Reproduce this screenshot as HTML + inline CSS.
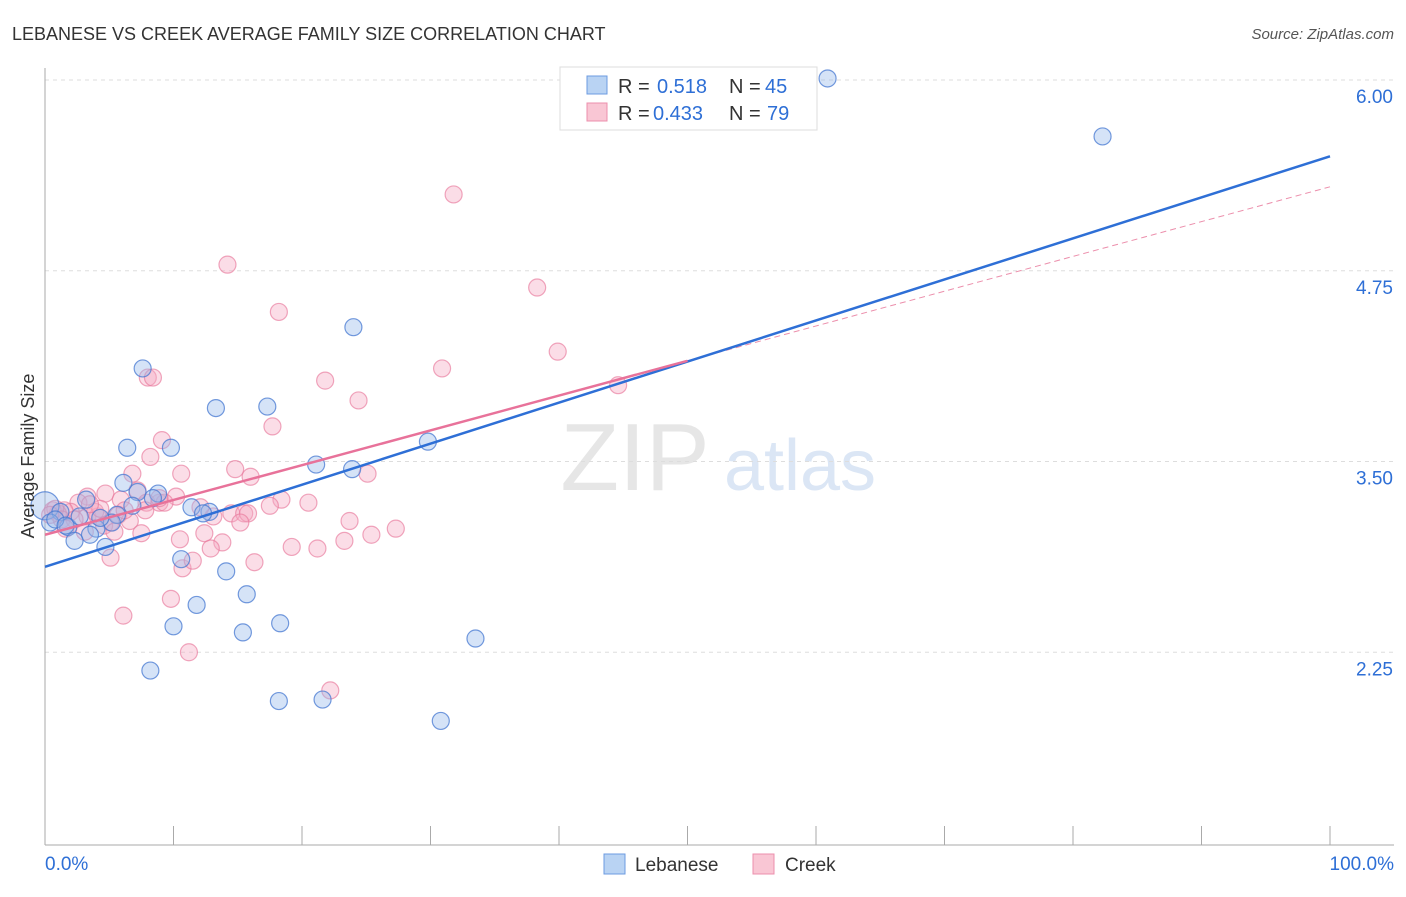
<!DOCTYPE html>
<html><head><meta charset="utf-8"><style>
body{margin:0;background:#fff;font-family:"Liberation Sans",sans-serif}
svg text{font-family:"Liberation Sans",sans-serif}
</style></head><body>
<svg id="chart" width="1406" height="892" xmlns="http://www.w3.org/2000/svg">
<text x="12" y="40" font-size="18" fill="#333">LEBANESE VS CREEK AVERAGE FAMILY SIZE CORRELATION CHART</text>
<text x="1394" y="39" font-size="15" fill="#555" text-anchor="end" font-style="italic">Source: ZipAtlas.com</text>
<g><text x="635" y="490" font-size="96" fill="#e6e6e6" font-family="Liberation Serif" text-anchor="middle">ZIP</text><text x="800" y="490" font-size="72" fill="#dbe6f5" text-anchor="middle">atlas</text></g>
<g id="grid"></g><g id="axes"></g><g id="points"></g><g id="lines"></g>
<text transform="translate(34,456) rotate(-90)" font-size="18" fill="#333" text-anchor="middle">Average Family Size</text>
<g>
<rect x="560" y="67" width="257" height="63" fill="#fff" stroke="#ddd"/>
<rect x="587" y="76" width="20" height="18" fill="#b9d3f3" stroke="#6c9be0"/>
<rect x="587" y="103" width="20" height="18" fill="#f9c6d4" stroke="#ec8fac"/>
<text x="618" y="93" font-size="20" fill="#333">R =</text><text x="657" y="93" font-size="20" fill="#2e6fd6">0.518</text>
<text x="729" y="93" font-size="20" fill="#333">N =</text><text x="765" y="93" font-size="20" fill="#2e6fd6">45</text>
<text x="618" y="120" font-size="20" fill="#333">R =</text><text x="653" y="120" font-size="20" fill="#2e6fd6">0.433</text>
<text x="729" y="120" font-size="20" fill="#333">N =</text><text x="767" y="120" font-size="20" fill="#2e6fd6">79</text>
</g>
<g>
<rect x="604" y="854" width="21" height="20" fill="#b9d3f3" stroke="#6c9be0"/><text x="635" y="871" font-size="19" fill="#333">Lebanese</text>
<rect x="753" y="854" width="21" height="20" fill="#f9c6d4" stroke="#ec8fac"/><text x="785" y="871" font-size="19" fill="#333">Creek</text>
</g>
</svg>
<script>
const yTicks=[6.00,4.75,3.50,2.25];
const xTickLabels=["0.0%","100.0%"];
const lebX=[0,60.9,82.3,24.0,7.6,13.3,17.3,29.8,6.4,9.8,21.1,23.9,6.1,7.2,8.8,8.4,11.4,12.8,12.3,6.8,5.6,5.2,3.2,1.2,1.8,4.0,3.5,2.3,4.7,10.6,14.1,15.7,11.8,10.0,15.4,18.3,33.5,8.2,18.2,21.6,30.8,0.4,0.8,1.6,4.3,2.7];
const lebY=[3.21,6.01,5.63,4.38,4.11,3.85,3.86,3.63,3.59,3.59,3.48,3.45,3.36,3.30,3.29,3.26,3.20,3.17,3.16,3.21,3.15,3.10,3.25,3.17,3.07,3.06,3.02,2.98,2.94,2.86,2.78,2.63,2.56,2.42,2.38,2.44,2.34,2.13,1.93,1.94,1.80,3.10,3.12,3.08,3.13,3.14];
const creekX=[31.8,14.2,38.3,18.2,39.9,30.9,8.0,8.4,21.8,44.6,24.4,17.7,9.1,8.2,14.8,10.6,16.0,6.8,25.1,7.2,4.7,3.3,10.2,20.5,18.4,7.9,8.9,9.3,5.9,2.6,2.0,1.5,1.0,0.6,3.3,4.1,5.7,13.1,14.5,15.5,15.8,6.6,5.1,4.6,23.7,12.4,27.3,25.4,23.3,10.5,13.8,19.2,21.2,12.9,16.3,5.1,10.7,11.5,9.8,6.1,11.2,22.2,0.8,1.3,2.3,3.9,5.4,7.5,3.1,1.6,0.4,4.3,6.2,8.9,17.5,15.2,12.1,7.8,3.5];
const creekY=[5.25,4.79,4.64,4.48,4.22,4.11,4.05,4.05,4.03,4.00,3.90,3.73,3.64,3.53,3.45,3.42,3.40,3.42,3.42,3.31,3.29,3.27,3.27,3.23,3.25,3.23,3.23,3.23,3.25,3.23,3.17,3.18,3.16,3.18,3.14,3.14,3.15,3.14,3.16,3.16,3.16,3.11,3.10,3.08,3.11,3.03,3.06,3.02,2.98,2.99,2.97,2.94,2.93,2.93,2.84,2.87,2.80,2.85,2.60,2.49,2.25,2.00,3.19,3.12,3.12,3.17,3.04,3.03,3.04,3.06,3.15,3.19,3.18,3.26,3.21,3.10,3.20,3.18,3.22];
const lebTrend=[2.81,5.50];
const creekTrend=[3.02,5.30];
const NS="http://www.w3.org/2000/svg";
const X0=45,X1=1330,Ytop=80,PX=152.6;
const xs=p=>X0+(X1-X0)*p/100;
const ys=v=>Ytop+(6-v)*PX;
function mk(t,a,parent){const e=document.createElementNS(NS,t);for(const k in a)e.setAttribute(k,a[k]);document.getElementById(parent).appendChild(e);return e;}
yTicks.forEach(v=>{
 const l=mk('line',{x1:45,x2:1394,y1:ys(v),y2:ys(v),stroke:'#ddd','stroke-dasharray':'4,4'},'grid');
 
 
 const t=mk('text',{x:1393,y:ys(v)+23,'font-size':19,fill:'#2e6fd6','text-anchor':'end'},'grid');
 t.textContent=v.toFixed(2);
 
 
});
let a=mk('line',{x1:45,x2:45,y1:68,y2:845,stroke:'#aaa'},'axes');


a=mk('line',{x1:45,x2:1394,y1:845,y2:845,stroke:'#aaa'},'axes');


for(let i=0;i<=10;i++){const t=mk('line',{x1:xs(i*10),x2:xs(i*10),y1:826,y2:845,stroke:'#aaa'},'axes');
 
 }
[[0,'start',45],[1,'end',1394]].forEach(([i,anc,x])=>{const t=mk('text',{x:x,y:870,'font-size':19,fill:'#2e6fd6','text-anchor':anc},'axes');t.textContent=xTickLabels[i];
 
 });
creekX.forEach((x,i)=>{const c=mk('circle',{cx:xs(x),cy:ys(creekY[i]),r:8.5,fill:'rgba(246,170,195,0.4)',stroke:'rgba(232,120,155,0.65)','stroke-width':1.2},'points');
 
 });
lebX.forEach((x,i)=>{const c=mk('circle',{cx:xs(x),cy:ys(lebY[i]),r:i==0?14:8.5,fill:'rgba(150,185,235,0.4)',stroke:'rgba(70,120,210,0.75)','stroke-width':1.2},'points');
 
 });
let l=mk('line',{x1:xs(50),y1:ys((creekTrend[0]+creekTrend[1])/2),x2:xs(100),y2:ys(creekTrend[1]),stroke:'#ec8fac','stroke-width':1,'stroke-dasharray':'6,4'},'lines');


l=mk('line',{x1:xs(0),y1:ys(lebTrend[0]),x2:xs(100),y2:ys(lebTrend[1]),stroke:'#2e6fd6','stroke-width':2.5},'lines');


l=mk('line',{x1:xs(0),y1:ys(creekTrend[0]),x2:xs(50),y2:ys((creekTrend[0]+creekTrend[1])/2),stroke:'#e8729a','stroke-width':2.5},'lines');


</script>
</body></html>
